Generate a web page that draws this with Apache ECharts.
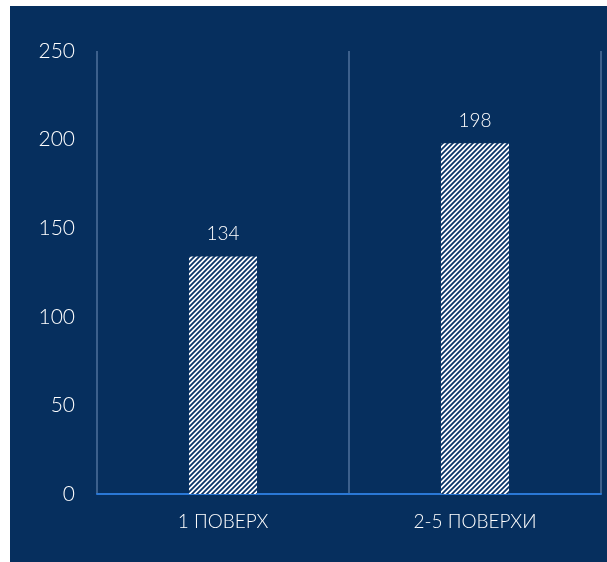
<!DOCTYPE html>
<html><head><meta charset="utf-8">
<script src="https://cdn.jsdelivr.net/npm/echarts@6/dist/echarts.min.js"></script>
<style>html,body{margin:0;padding:0;background:#fff;}#c{position:absolute;left:10px;top:6px;width:597px;height:556px;}</style>
</head><body><div id="c"></div>
<script>
const categories = ['1 ПОВЕРХ', '2-5 ПОВЕРХИ'];
const values = [134, 198];
const yTicks = [0, 50, 100, 150, 200, 250];

const bg = '#062f5e';
function hatch() {
  const c = document.createElement('canvas');
  c.width = 5; c.height = 5;
  const g = c.getContext('2d');
  g.fillStyle = '#ffffff'; g.fillRect(0, 0, 5, 5);
  g.strokeStyle = '#0a3468'; g.lineWidth = 1.8;
  g.beginPath();
  g.moveTo(-1, 6); g.lineTo(6, -1);
  g.moveTo(-1, 1); g.lineTo(1, -1);
  g.moveTo(4, 6); g.lineTo(6, 4);
  g.stroke();
  return c;
}
const chart = echarts.init(document.getElementById('c'));
const font = 'Lato';
chart.setOption({
  backgroundColor: bg,
  animation: false,
  grid: { left: 87, right: 6, top: 45, bottom: 68 },
  xAxis: {
    type: 'category', data: categories,
    axisLine: { show: true, lineStyle: { color: '#2a78d6', width: 2 } },
    axisTick: { show: false },
    splitLine: { show: true, lineStyle: { color: '#4f729c', width: 1.5 } },
    axisLabel: { color: '#ffffff', fontSize: 19, fontFamily: font, fontWeight: 300, margin: 18 }
  },
  yAxis: {
    type: 'value', min: yTicks[0], max: yTicks[yTicks.length - 1], interval: 50,
    axisLine: { show: false }, axisTick: { show: false },
    splitLine: { show: false },
    axisLabel: { color: '#ffffff', fontSize: 21, fontFamily: font, fontWeight: 300, margin: 22 }
  },
  series: [{
    type: 'bar', data: values, barWidth: '27%',
    itemStyle: { color: { image: hatch(), repeat: 'repeat' } },
    label: { show: true, position: 'top', distance: 13, color: '#ffffff', fontSize: 19, fontFamily: font, fontWeight: 300 }
  }]
});
</script></body></html>
